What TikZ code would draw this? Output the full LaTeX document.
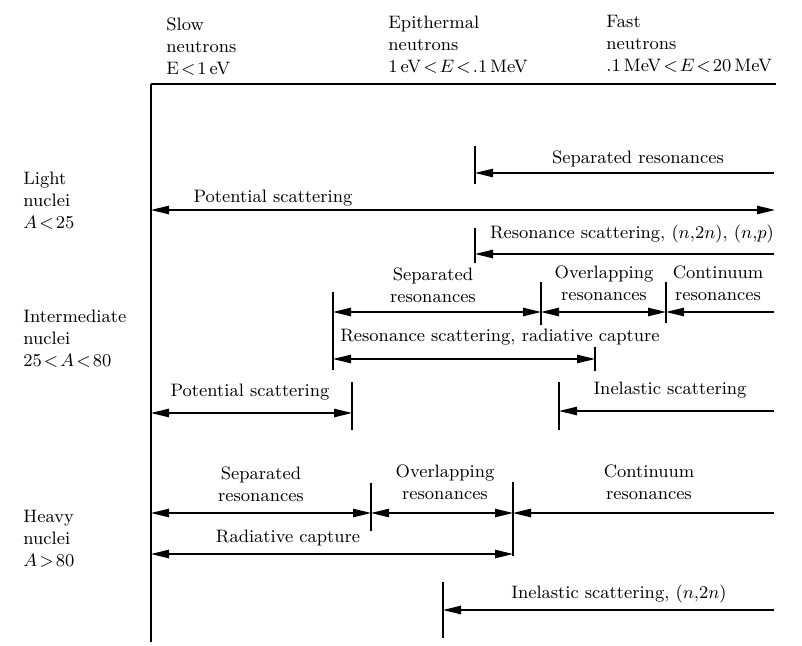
\documentclass[tikz,border=0pt]{standalone}
\usetikzlibrary{arrows.meta}
\newcommand{\tlt}{\mskip2mu{<}\mskip2mu}
\newcommand{\tgt}{\mskip2mu{>}\mskip2mu}
\begin{document}
\begin{tikzpicture}[x=0.5pt,y=-0.5pt,
  >={Triangle[length=9pt,width=4.2pt]},
  lbl/.style={inner sep=0pt,font=\fontsize{9}{11}\selectfont},
  lbll/.style={lbl,align=left,anchor=west},
  lblc/.style={lbl,align=center},
  conn/.style={line width=0.75pt},
  tick/.style={line width=0.8pt},
  axis/.style={line width=1pt},
  topline/.style={line width=1.4pt}]
\useasboundingbox (0,0) rectangle (802,646);

% axes
\coordinate (o) at (151,84);
\coordinate (tr) at (776,84);
\coordinate (ob) at (151,642);
\draw[topline] (o) -- (tr);
\draw[axis] (o) -- (ob);

% header
\node[lbll] (h1) at (166,47) {Slow\\neutrons\\E$\tlt$1\,eV};
\node[lbll] (h2) at (388,45) {Epithermal\\neutrons\\1\,eV$\tlt E\tlt$.1\,MeV};
\node[lbll] (h3) at (606,44) {Fast\\neutrons\\.1\,MeV$\tlt E\tlt$20\,MeV};

% row labels
\node[lbll] (l1) at (23,201) {Light\\nuclei\\$A\tlt25$};
\node[lbll] (l2) at (23,339) {Intermediate\\nuclei\\$25\tlt A\tlt80$};
\node[lbll] (l3) at (23,539) {Heavy\\nuclei\\$A\tgt80$};

% ---------- Light nuclei ----------
\coordinate (a1t) at (475,146); \coordinate (a1b) at (475,184);
\draw[tick] (a1t) -- (a1b);
\coordinate (a1r) at (774,173); \coordinate (a1l) at (475,173);
\draw[conn,->] (a1r) -- (a1l);
\node[lblc] (t1) at (638,159) {Separated resonances};

\coordinate (p1l) at (151,210); \coordinate (p1r) at (775,210);
\draw[conn,<->] (p1l) -- (p1r);
\node[lblc] (t2) at (273,198) {Potential scattering};

\coordinate (a2t) at (475,228); \coordinate (a2b) at (475,263);
\draw[tick] (a2t) -- (a2b);
\coordinate (a2r) at (774,254); \coordinate (a2l) at (475,254);
\draw[conn,->] (a2r) -- (a2l);
\node[lblc] (t3) at (632,234) {Resonance scattering, $(n,\!2n)$, $(n,\!p)$};

% ---------- Intermediate nuclei ----------
\coordinate (b1t) at (333,292); \coordinate (b1b) at (333,370);
\coordinate (b2t) at (541,282); \coordinate (b2b) at (541,325);
\coordinate (b3t) at (666,282); \coordinate (b3b) at (666,323);
\draw[tick] (b1t) -- (b1b);
\draw[tick] (b2t) -- (b2b);
\draw[tick] (b3t) -- (b3b);
\coordinate (r1) at (333,312); \coordinate (r2) at (541,312);
\coordinate (r3) at (666,312); \coordinate (r4) at (774,312);
\draw[conn,<->] (r1) -- (r2);
\draw[conn,<->] (r2) -- (r3);
\draw[conn,->] (r4) -- (r3);
\node[lblc] (t4) at (433,285) {Separated\\resonances};
\node[lblc] (t5) at (604,283) {Overlapping\\resonances};
\node[lblc] (t6) at (718,283) {Continuum\\resonances};

\coordinate (c1l) at (333,359); \coordinate (c1r) at (595,359);
\coordinate (c1t) at (595,347); \coordinate (c1b) at (595,371);
\draw[tick] (c1t) -- (c1b);
\draw[conn,<->] (c1l) -- (c1r);
\node[lblc] (t7) at (500,337) {Resonance scattering, radiative capture};

\coordinate (d1l) at (151,413); \coordinate (d1r) at (352,413);
\coordinate (d1t) at (352,382); \coordinate (d1b) at (352,430);
\draw[tick] (d1t) -- (d1b);
\draw[conn,<->] (d1l) -- (d1r);
\node[lblc] (t8) at (250,392) {Potential scattering};

\coordinate (e1t) at (559,382); \coordinate (e1b) at (559,430);
\draw[tick] (e1t) -- (e1b);
\coordinate (e1r) at (774,411); \coordinate (e1l) at (559,411);
\draw[conn,->] (e1r) -- (e1l);
\node[lblc] (t9) at (670,390) {Inelastic scattering};

% ---------- Heavy nuclei ----------
\coordinate (f1t) at (371,483); \coordinate (f1b) at (371,531);
\coordinate (f2t) at (513,482); \coordinate (f2b) at (513,556);
\draw[tick] (f1t) -- (f1b);
\draw[tick] (f2t) -- (f2b);
\coordinate (s0) at (151,513); \coordinate (s1) at (371,513);
\coordinate (s2) at (513,513); \coordinate (s3) at (774,513);
\draw[conn,<->] (s0) -- (s1);
\draw[conn,<->] (s1) -- (s2);
\draw[conn,->] (s3) -- (s2);
\node[lblc] (t10) at (261,484) {Separated\\resonances};
\node[lblc] (t11) at (445,482) {Overlapping\\resonances};
\node[lblc] (t12) at (649,482) {Continuum\\resonances};

\coordinate (g1l) at (151,554); \coordinate (g1r) at (513,554);
\draw[conn,<->] (g1l) -- (g1r);
\node[lblc] (t13) at (288,538) {Radiative capture};

\coordinate (h1t) at (443,582); \coordinate (h1b) at (443,638);
\draw[tick] (h1t) -- (h1b);
\coordinate (h1r) at (774,610); \coordinate (h1l) at (443,610);
\draw[conn,->] (h1r) -- (h1l);
\node[lblc] (t14) at (619,594) {Inelastic scattering, $(n,\!2n)$};
\end{tikzpicture}
\end{document}
